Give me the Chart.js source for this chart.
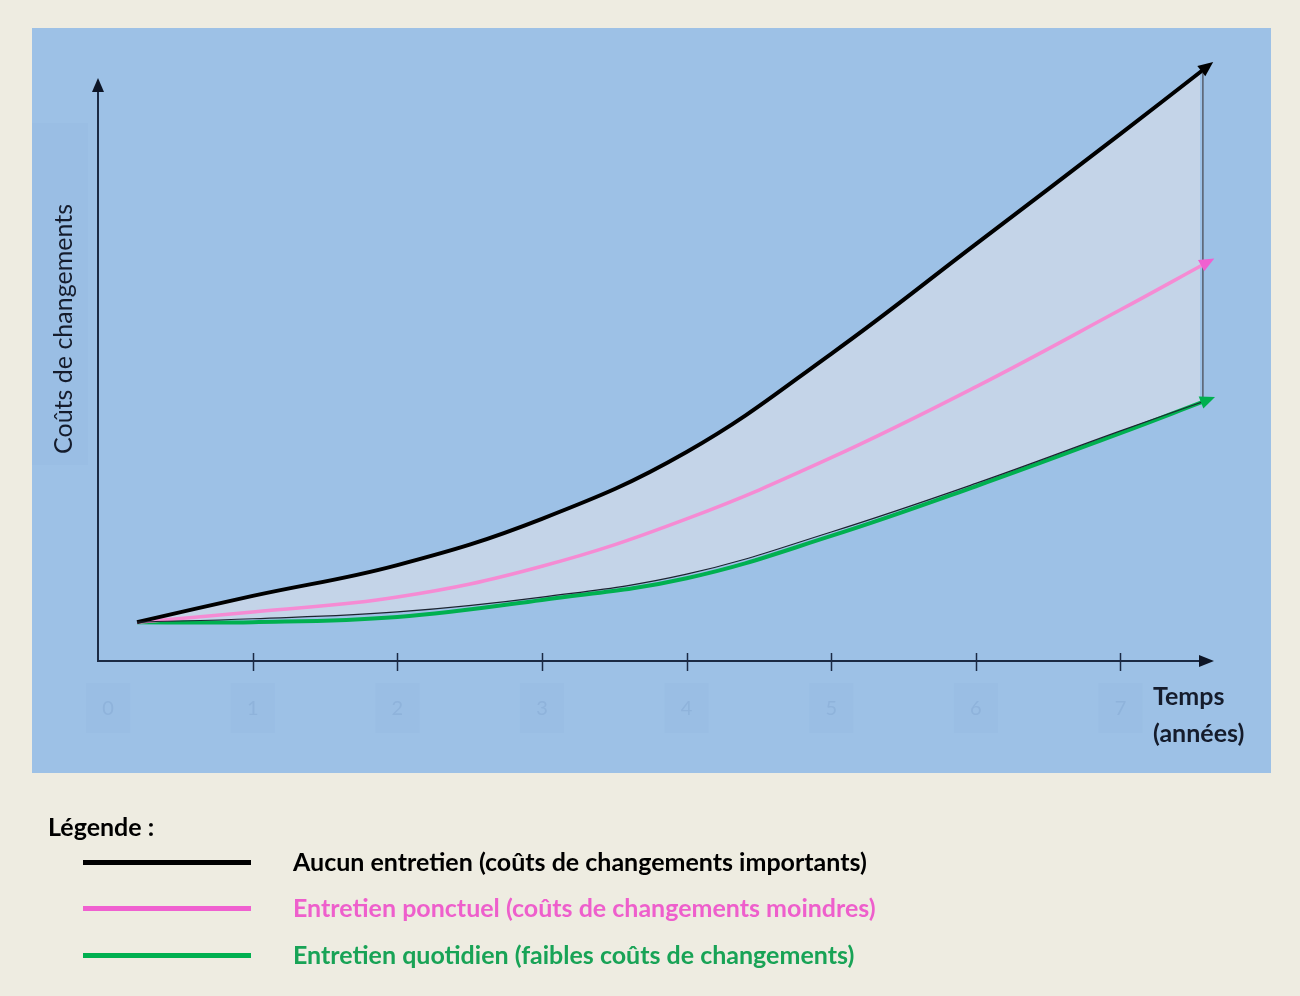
<!DOCTYPE html>
<html>
<head>
<meta charset="utf-8">
<script src="https://cdn.jsdelivr.net/npm/chart.js@4.4.0/dist/chart.umd.min.js"></script>
<style>
  html, body { margin: 0; padding: 0; background: #eeece1; }
  #wrap { position: relative; width: 1300px; height: 996px; }
  #c { position: absolute; left: 0; top: 0; }
  .lg { position: absolute; font-family: Lato, sans-serif; font-weight: 700; font-size: 25px; white-space: nowrap; line-height: 1; }
  .sw { position: absolute; height: 5px; }
</style>
</head>
<body>
<div id="wrap">
  <canvas id="c" width="1300" height="996"></canvas>
  <div id="legend"></div>
</div>
<script>
// temps (années)
const annees = [0.2, 1, 2, 3, 4, 5, 6, 7, 7.57];
const tickValues = [0, 1, 2, 3, 4, 5, 6, 7];
const tickLabels = ['0', '1', '2', '3', '4', '5', '6', '7'];
const yAxisTop = 100;

// coûts de changements (échelle arbitraire)
const aucunEntretien     = [6.8, 11.4, 16.8, 24.9, 36.6, 53.8, 73.0, 92.3, 103.5];
const entretienPonctuel  = [6.8, 8.6, 11.2, 16.6, 24.9, 35.6, 48.0, 61.5, 69.4];
const entretienQuotidien = [6.8, 6.8, 7.7, 10.7, 14.5, 21.9, 30.6, 39.9, 45.4];
const bordInferieur      = [6.8, 7.4, 8.6, 11.2, 15.2, 22.6, 31.1, 40.3, 45.4];

const seriesNames = [
  'Aucun entretien (coûts de changements importants)',
  'Entretien ponctuel (coûts de changements moindres)',
  'Entretien quotidien (faibles coûts de changements)'
];
const lineColors = ['#000000', '#f58bd3', '#00b050'];
const textColors = ['#000000', '#ee5fcc', '#18a356'];
const arrowColors = ['#000000', '#f060d0', '#00b050'];

const pts = arr => arr.map((v, i) => ({ x: annees[i], y: v }));

// fond + panneau bleu
const fondPlugin = {
  id: 'fond',
  beforeDraw(chart) {
    const ctx = chart.ctx;
    const a = chart.chartArea;
    const xs = chart.scales.x;
    ctx.save();
    ctx.fillStyle = '#eeece1';
    ctx.fillRect(0, 0, chart.width, chart.height);
    ctx.fillStyle = '#9dc1e6';
    ctx.fillRect(32, 28, 1239, 745);
    // cadres pâles et étiquettes presque invisibles
    ctx.fillStyle = '#9abee4';
    tickValues.forEach(v => {
      const px = xs.getPixelForValue(v);
      ctx.fillRect(px - 22, a.bottom + 22, 44, 50);
    });
    ctx.fillRect(32, 123, 56, 342);
    ctx.fillStyle = '#8fb3db';
    ctx.font = '20px Lato, sans-serif';
    ctx.textAlign = 'center';
    ctx.textBaseline = 'middle';
    tickValues.forEach((v, i) => {
      ctx.fillText(tickLabels[i], xs.getPixelForValue(v), a.bottom + 48);
    });
    ctx.restore();
  }
};

function arrowHead(ctx, x, y, ang, len, half, color) {
  ctx.save();
  ctx.translate(x, y);
  ctx.rotate(ang);
  ctx.fillStyle = color;
  ctx.beginPath();
  ctx.moveTo(len, 0);
  ctx.lineTo(0, -half);
  ctx.lineTo(0, half);
  ctx.closePath();
  ctx.fill();
  ctx.restore();
}

const decorPlugin = {
  id: 'decor',
  afterDraw(chart) {
    const ctx = chart.ctx;
    const a = chart.chartArea;
    const xs = chart.scales.x;
    const ys = chart.scales.y;
    ctx.save();
    // axe vertical
    const yTop = ys.getPixelForValue(yAxisTop);
    ctx.strokeStyle = '#1b2a44';
    ctx.lineWidth = 2;
    ctx.beginPath();
    ctx.moveTo(a.left, a.bottom);
    ctx.lineTo(a.left, yTop + 2);
    ctx.stroke();
    // graduations
    ctx.lineWidth = 1.5;
    tickValues.forEach(v => {
      if (v === 0) return;
      const px = Math.round(xs.getPixelForValue(v)) + 0.5;
      ctx.beginPath();
      ctx.moveTo(px, a.bottom - 8);
      ctx.lineTo(px, a.bottom + 10);
      ctx.stroke();
    });
    // flèches des axes
    arrowHead(ctx, a.left, yTop + 2, -Math.PI / 2, 14, 6, '#0d1526');
    arrowHead(ctx, a.right - 1, a.bottom, 0, 15, 6, '#0d1526');

    // trait vertical à droite
    const top = chart.getDatasetMeta(1).data;
    const bot = chart.getDatasetMeta(0).data;
    const pT = top[top.length - 1], pB = bot[bot.length - 1];
    ctx.strokeStyle = '#555d6b';
    ctx.lineWidth = 1.5;
    ctx.beginPath();
    ctx.moveTo(pT.x, pT.y);
    ctx.lineTo(pB.x, pB.y);
    ctx.stroke();

    // flèches au bout des courbes
    [1, 2, 3].forEach((di, k) => {
      const d = chart.getDatasetMeta(di).data;
      const p = d[d.length - 1];
      const cx = p.cp1x !== undefined ? p.cp1x : d[d.length - 2].x;
      const cy = p.cp1y !== undefined ? p.cp1y : d[d.length - 2].y;
      const ang = Math.atan2(p.y - cy, p.x - cx);
      arrowHead(ctx, p.x - Math.cos(ang) * 2, p.y - Math.sin(ang) * 2, ang, 15, 6.5, arrowColors[k]);
    });

    // titres des axes
    ctx.fillStyle = '#151c2c';
    ctx.font = '25px Lato, sans-serif';
    ctx.textAlign = 'center';
    ctx.textBaseline = 'middle';
    ctx.save();
    ctx.translate(64, 329);
    ctx.rotate(-Math.PI / 2);
    ctx.fillText('Coûts de changements', 0, 0);
    ctx.restore();
    ctx.font = 'bold 25px Lato, sans-serif';
    ctx.textAlign = 'left';
    ctx.fillText('Temps', 1153, 697);
    ctx.fillText('(années)', 1153, 734);
    ctx.restore();
  }
};

new Chart(document.getElementById('c'), {
  type: 'line',
  data: {
    datasets: [
      {
        label: 'bord',
        data: pts(bordInferieur),
        borderColor: '#1d2430',
        borderWidth: 1.2,
        pointRadius: 0,
        fill: false,
        order: 0
      },
      {
        label: seriesNames[0],
        data: pts(aucunEntretien),
        borderColor: lineColors[0],
        borderWidth: 4,
        pointRadius: 0,
        fill: { target: 0 },
        backgroundColor: '#c4d4e8',
        order: 1
      },
      {
        label: seriesNames[1],
        data: pts(entretienPonctuel),
        borderColor: lineColors[1],
        borderWidth: 3.5,
        pointRadius: 0,
        fill: false,
        order: 2
      },
      {
        label: seriesNames[2],
        data: pts(entretienQuotidien),
        borderColor: lineColors[2],
        borderWidth: 4,
        pointRadius: 0,
        fill: false,
        order: 3
      }
    ]
  },
  options: {
    responsive: false,
    animation: false,
    layout: { padding: { left: 98, right: 100, top: 50, bottom: 335 } },
    plugins: {
      legend: { display: false },
      tooltip: { enabled: false },
      filler: { drawTime: 'beforeDatasetsDraw' }
    },
    datasets: { line: { tension: 0.4, clip: false } },
    scales: {
      x: {
        type: 'linear',
        min: -0.07,
        max: 7.55,
        afterBuildTicks: s => { s.ticks = tickValues.map(v => ({ value: v })); },
        afterFit: s => { s.height = 0; },
        grid: { display: false, drawTicks: false },
        border: { display: true, color: '#1b2a44', width: 2 },
        ticks: { display: false }
      },
      y: {
        min: 0,
        max: 107,
        afterFit: s => { s.width = 0; },
        grid: { display: false, drawTicks: false },
        border: { display: false },
        ticks: { display: false }
      }
    }
  },
  plugins: [fondPlugin, decorPlugin]
});

// légende
const legend = document.getElementById('legend');
const title = document.createElement('div');
title.className = 'lg';
title.style.left = '48px';
title.style.top = '814px';
title.style.color = '#000';
title.textContent = 'Légende :';
legend.appendChild(title);
const rowsY = [862, 908, 955];
seriesNames.forEach((name, i) => {
  const sw = document.createElement('div');
  sw.className = 'sw';
  sw.style.left = '83px';
  sw.style.width = '168px';
  sw.style.top = (rowsY[i] - 2) + 'px';
  sw.style.background = i === 0 ? '#000' : (i === 1 ? '#f060d0' : '#00b050');
  legend.appendChild(sw);
  const t = document.createElement('div');
  t.className = 'lg';
  t.style.left = '293px';
  t.style.top = (rowsY[i] - 13) + 'px';
  t.style.color = textColors[i];
  t.textContent = name;
  legend.appendChild(t);
});
</script>
</body>
</html>
